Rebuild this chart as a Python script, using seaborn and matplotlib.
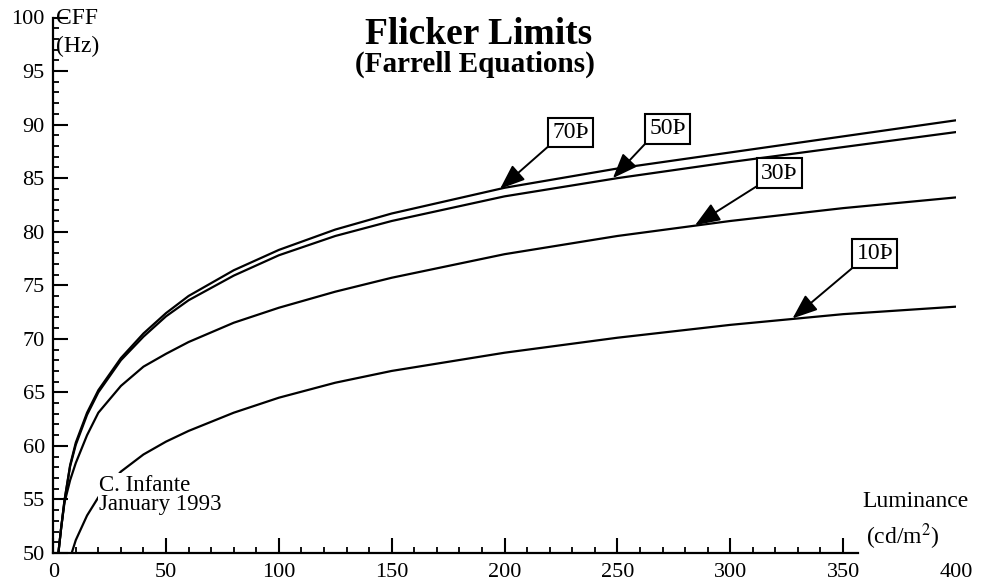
import matplotlib
matplotlib.use("Agg")
import matplotlib.pyplot as plt
import seaborn as sns
import pandas as pd
from matplotlib.ticker import FixedLocator

# ---- data ----
lum = [2.3, 3.5, 5, 7.5, 10, 15, 20, 30, 40, 50, 60, 80, 100, 125, 150, 200, 250, 300, 350, 400]
cff_70 = [50.0, 52.3, 54.9, 58.2, 60.3, 63.1, 65.2, 68.2, 70.5, 72.4, 74.0, 76.4, 78.3, 80.2, 81.7, 84.1, 85.9, 87.4, 88.9, 90.4]
cff_50 = [50.0, 52.3, 54.9, 58.1, 60.1, 62.9, 65.0, 68.0, 70.2, 72.1, 73.6, 75.9, 77.8, 79.6, 81.0, 83.3, 85.0, 86.5, 87.9, 89.3]
cff_30 = [50.0, 52.3, 54.7, 56.8, 58.4, 61.0, 63.1, 65.6, 67.4, 68.6, 69.7, 71.5, 72.9, 74.4, 75.7, 77.9, 79.6, 81.0, 82.2, 83.2]
lum_10 = [8.2, 10, 15, 20, 30, 40, 50, 60, 80, 100, 125, 150, 200, 250, 300, 350, 400]
cff_10 = [50.0, 51.2, 53.5, 55.2, 57.6, 59.2, 60.4, 61.4, 63.1, 64.5, 65.9, 67.0, 68.7, 70.1, 71.3, 72.3, 73.0]

labels = ["70Þ", "50Þ", "30Þ", "10Þ"]
# (arrow target on curve, box centre) in data units
label_target = [(198, 84.0), (248, 85.0), (284.4, 80.6), (327.6, 71.9)]
label_box = [(229.2, 89.26), (272.2, 89.59), (321.8, 85.48), (364.1, 77.92)]

xticks = [0, 50, 100, 150, 200, 250, 300, 350, 400]
yticks = [50, 55, 60, 65, 70, 75, 80, 85, 90, 95, 100]

title = "Flicker Limits"
subtitle = "(Farrell Equations)"
author = "C. Infante\nJanuary 1993"

# ---- build long table ----
frames = []
for name, xs, ys in [("70", lum, cff_70), ("50", lum, cff_50), ("30", lum, cff_30), ("10", lum_10, cff_10)]:
    frames.append(pd.DataFrame({"lum": xs, "cff": ys, "series": name}))
df = pd.concat(frames, ignore_index=True)

sns.set_theme(style="white")
plt.rcParams["font.family"] = ["Liberation Serif", "DejaVu Serif"]
plt.rcParams["mathtext.fontset"] = "stix"
for k in ["text.color", "axes.labelcolor", "xtick.color", "ytick.color", "axes.edgecolor"]:
    plt.rcParams[k] = "black"

fig = plt.figure(figsize=(9.81, 5.85), dpi=100)
W, H = 981, 585
ax = fig.add_axes([53.2 / W, (H - 553) / H, (955.9 - 53.2) / W, (553 - 17.5) / H])

sns.lineplot(data=df, x="lum", y="cff", hue="series", palette=["black"] * 4,
             legend=False, sort=False, lw=1.6, ax=ax, estimator=None)

ax.set_xlim(0, 400)
ax.set_ylim(50, 100)
ax.set_xlabel("")
ax.set_ylabel("")

for s in ["top", "right"]:
    ax.spines[s].set_visible(False)
for s in ["left", "bottom"]:
    ax.spines[s].set_color("black")
    ax.spines[s].set_linewidth(1.6)
ax.spines["bottom"].set_bounds(0, 356.6)

ax.set_xticks(xticks)
ax.set_yticks(yticks)
ax.xaxis.set_minor_locator(FixedLocator([v for v in range(10, 360, 10) if v % 50 != 0]))
ax.yaxis.set_minor_locator(FixedLocator([v for v in range(51, 100) if v % 5 != 0]))
ax.tick_params(axis="both", which="major", direction="in", length=11, width=1.5,
               color="black", labelsize=16, labelcolor="black")
ax.tick_params(axis="both", which="minor", direction="in", length=4.5, width=1.3, color="black")
ax.tick_params(axis="x", which="major", pad=7)
ax.tick_params(axis="y", which="major", pad=6)
ax.tick_params(axis="both", which="both", bottom=True, left=True)
ax.xaxis.get_major_ticks()[-1].tick1line.set_visible(False)
ax.grid(False)

# axis captions
ax.text(1.2, 99.86, "CFF", fontsize=17, ha="left", va="center", clip_on=False)
ax.text(1.2, 97.34, "(Hz)", fontsize=17, ha="left", va="center", clip_on=False)
ax.text(358.4, 54.8, "Luminance", fontsize=17, ha="left", va="center")
ax.text(360.0, 51.5, r"(cd/m$^{2}$)", fontsize=17, ha="left", va="center")

# author note with white background hiding the curve
ax.text(20.3, 57.3, author, fontsize=16.5, ha="left", va="top", linespacing=0.9, zorder=5,
        bbox=dict(facecolor="white", edgecolor="none", pad=1))

# title
fig.text(479 / W, 1 - 34.5 / H, title, fontsize=27, fontweight="bold", ha="center", va="center")
fig.text(475 / W, 1 - 64 / H, subtitle, fontsize=21, fontweight="bold", ha="center", va="center")

# boxed labels with arrows
for lab, tgt, box in zip(labels, label_target, label_box):
    ax.annotate(lab, xy=tgt, xytext=box, fontsize=17, ha="center", va="center", zorder=6,
                bbox=dict(boxstyle="square,pad=0.17", facecolor="white", edgecolor="black", lw=1.5),
                arrowprops=dict(arrowstyle="-|>,head_length=0.9,head_width=0.35", color="black",
                                lw=1.4, relpos=(0, 0), shrinkA=0, shrinkB=0))

fig.savefig("out.png", dpi=100, facecolor="white")
